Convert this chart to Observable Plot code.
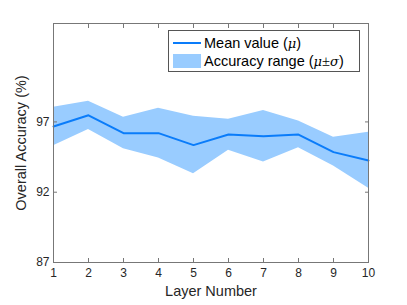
<!DOCTYPE html>
<html><head><meta charset="utf-8">
<script src="https://cdn.jsdelivr.net/npm/d3@7"></script>
<script src="https://cdn.jsdelivr.net/npm/@observablehq/plot@0.6"></script>
<style>
body{margin:0;background:#fff;}
#wrap{position:relative;width:407px;height:305px;font-family:"Liberation Sans",Arial,sans-serif;}
#legend{position:absolute;left:168px;top:30px;width:192px;height:42px;border:1px solid #555;background:#fff;box-sizing:border-box;font-size:14.5px;color:#000;}
.row{position:absolute;left:0;height:18px;line-height:18px;white-space:nowrap;}
.sw{position:absolute;left:4px;width:28px;}
.lbl{position:absolute;left:35px;top:0;}
.m{font-family:"DejaVu Serif","Liberation Serif",serif;font-style:italic;font-size:13px;}
.pm{font-family:"Liberation Serif",serif;}
</style>
</head><body>
<div id="wrap"></div>
<script>
const layers = [1, 2, 3, 4, 5, 6, 7, 8, 9, 10];
const meanAcc  = [96.67, 97.47, 96.2, 96.2, 95.35, 96.1, 95.98, 96.1, 94.85, 94.26];
const upperAcc = [98.04, 98.47, 97.33, 97.97, 97.4, 97.19, 97.81, 97.07, 95.91, 96.27];
const lowerAcc = [95.3, 96.46, 95.09, 94.43, 93.31, 94.99, 94.14, 95.16, 93.86, 92.28];
const xTicks = layers;
const yTicks = [87, 92, 97];
const xLabel = "Layer Number";
const yLabel = "Overall Accuracy (%)";

const data = layers.map((l, i) => ({layer: l, mean: meanAcc[i], lo: lowerAcc[i], hi: upperAcc[i]}));

const chart = Plot.plot({
  width: 407, height: 305,
  marginLeft: 53, marginRight: 39, marginTop: 23, marginBottom: 43,
  style: {fontFamily: '"Liberation Sans", Arial, sans-serif', fontSize: "12px", color: "#262626", background: "#fff", overflow: "visible"},
  x: {domain: [1, 10]},
  y: {domain: [87, 104]},
  marks: [
    Plot.areaY(data, {x: "layer", y1: "lo", y2: "hi", fill: "#99ccff", fillOpacity: 1}),
    Plot.lineY(data, {x: "layer", y: "mean", stroke: "#0a7cfa", strokeWidth: 2}),
    Plot.frame({stroke: "#777"}),
    Plot.axisX(xTicks, {anchor: "bottom", tickSize: -4, text: null, stroke: "#777", label: null}),
    Plot.axisX(xTicks, {anchor: "top", tickSize: -4, text: null, stroke: "#777", label: null}),
    Plot.axisY(yTicks, {anchor: "left", tickSize: -4, text: null, stroke: "#777", label: null}),
    Plot.axisY(yTicks, {anchor: "right", tickSize: -4, text: null, stroke: "#777", label: null}),
    Plot.axisX(xTicks, {anchor: "bottom", tickSize: 0, tickPadding: 6, label: null, fill: "#262626"}),
    Plot.axisY(yTicks, {anchor: "left", tickSize: 0, tickPadding: 4, label: null, fill: "#262626"}),
    Plot.text([xLabel], {frameAnchor: "bottom", dy: 33, fontSize: 14.5, fill: "#262626"}),
    Plot.text([yLabel], {frameAnchor: "left", dx: -32, rotate: -90, textAnchor: "middle", fontSize: 14.5, fill: "#262626"})
  ]
});
const wrap = document.getElementById("wrap");
wrap.appendChild(chart);

const legend = document.createElement("div");
legend.id = "legend";
legend.innerHTML = `
  <div class="row" style="top:3px"><div class="sw" style="top:8px;height:2px;background:#0a7cfa"></div><div class="lbl">Mean value (<span class="m">μ</span>)</div></div>
  <div class="row" style="top:21px"><div class="sw" style="top:2px;height:14px;background:#99ccff"></div><div class="lbl">Accuracy range (<span class="m">μ</span><span class="pm">±</span><span class="m">σ</span>)</div></div>`;
wrap.appendChild(legend);
</script>
</body></html>
